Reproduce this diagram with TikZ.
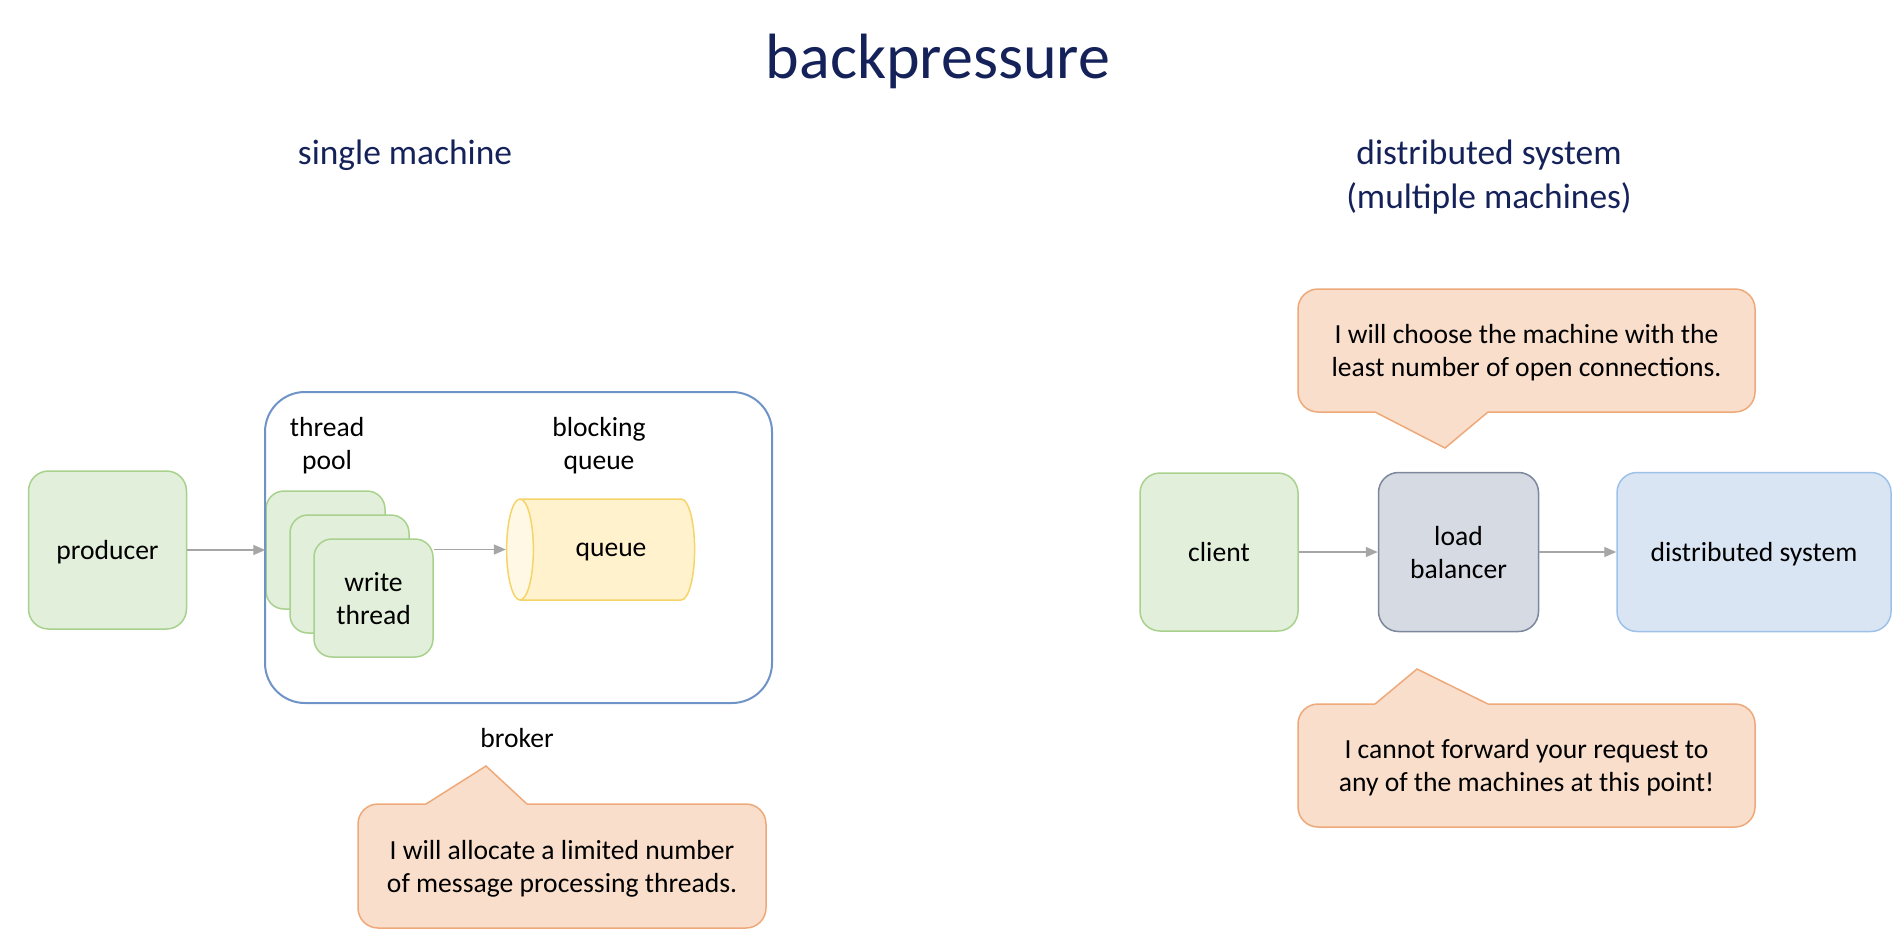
\documentclass[tikz,border=0pt]{standalone}
\usepackage{fontspec}
\setmainfont{Carlito}
\usetikzlibrary{positioning,arrows.meta,shapes.geometric}
\definecolor{navy}{HTML}{15225A}
\definecolor{greenfill}{HTML}{E2EFDA}
\definecolor{greendraw}{HTML}{A9D18E}
\definecolor{brokerdraw}{HTML}{6E93C6}
\definecolor{queuefill}{HTML}{FFF2CC}
\definecolor{queueend}{HTML}{FFF8E4}
\definecolor{queuedraw}{HTML}{F5D46A}
\definecolor{lbfill}{HTML}{D5DAE3}
\definecolor{lbdraw}{HTML}{7D889C}
\definecolor{dsfill}{HTML}{DAE5F4}
\definecolor{dsdraw}{HTML}{9DC1E8}
\definecolor{notefill}{HTML}{F9DECB}
\definecolor{notedraw}{HTML}{EEA97A}
\definecolor{arrowgrey}{HTML}{A6A6A6}
\tikzset{
    heading/.style = {
        text = navy,
        font = \fontsize{32}{38}\selectfont,
        },
    subheading/.style = {
        text = navy,
        align = center,
        font = \fontsize{17.7}{21.6}\selectfont,
        },
    box/.style = {
        draw,
        line width = 0.75pt,
        rounded corners = 10pt,
        align = center,
        text depth = 0pt,
        },
    green box/.style = {
        box,
        fill = greenfill,
        draw = greendraw,
        minimum width = 79pt,
        minimum height = 79pt,
        },
    thread box/.style = {
        green box,
        rounded corners = 9pt,
        minimum width = 59.5pt,
        minimum height = 59pt,
        },
    broker box/.style = {
        draw = brokerdraw,
        line width = 1pt,
        rounded corners = 20pt,
        minimum width = 253.5pt,
        minimum height = 155.5pt,
        },
    queue/.style = {
        cylinder,
        shape border rotate = 180,
        aspect = 1,
        draw = queuedraw,
        line width = 0.75pt,
        text depth = 0pt,
        cylinder uses custom fill,
        cylinder body fill = queuefill,
        cylinder end fill = queueend,
        minimum width = 50.5pt,
        minimum height = 94pt,
        },
    balancer/.style = {
        box,
        fill = lbfill,
        draw = lbdraw,
        minimum width = 80pt,
        minimum height = 79.5pt,
        },
    target/.style = {
        box,
        fill = dsfill,
        draw = dsdraw,
        minimum width = 137pt,
        minimum height = 79.5pt,
        },
    note/.style = {
        fill = notefill,
        draw = notedraw,
        line width = 0.75pt,
        rounded corners = 10pt,
        align = center,
        text depth = 0pt,
        },
    note fill/.style = {
        fill = notefill,
        },
    note line/.style = {
        draw = notedraw,
        line width = 0.75pt,
        },
    flow/.style = {
        draw = arrowgrey,
        line width = 0.7pt,
        -{Triangle[length=6pt,width=5pt]},
        },
}

\begin{document}
\begin{tikzpicture}[x=0.5pt, y=-0.5pt, font=\fontsize{13.8}{16.5}\selectfont]
    \useasboundingbox (0,0) rectangle (1898,937);

    \node[heading, anchor=base] (title) at (938,78) {backpressure};
    \node[subheading, anchor=base] (single) at (405,164) {single machine};
    \node[subheading] (multi) at (1489,177) {distributed system\\(multiple machines)};

    % single machine
    \node[green box] (producer) at (107.5,550) {producer};
    \node[thread box, right=39pt of producer] (pool1) {};
    \node[thread box] (pool2) at ([shift={(24,24)}]pool1.center) {};
    \node[thread box] (pool3) at ([shift={(24,24)}]pool2.center) {write\\thread};
    \node[queue] (queue) at (611,549.5) {queue};
    \node[broker box] (broker) at (518.5,547.5) {};
    \node[align=center] (pool label) at (327,446) {thread\\pool};
    \node[align=center] (queue label) at (599,446) {blocking\\queue};
    \node[anchor=base] (broker label) at (517,747) {broker};

    \path[flow] (producer) -- (pool1);
    \path[flow] (queue.west -| pool3.east) -- (queue.west);

    \node[note, minimum width=204pt, minimum height=62pt] (allocate) at (562,866)
        {I will allocate a limited number\\of message processing threads.};
    \coordinate (allocate tip) at (486,766);
    \fill[note fill] (426,808) -- (426,804) -- (allocate tip) -- (527,804) -- (527,808) -- cycle;
    \draw[note line] (426,804) -- (allocate tip) -- (527,804);

    % distributed system
    \node[green box] (client) at (1219,552) {client};
    \node[balancer, right=39.5pt of client] (lb) {load\\balancer};
    \node[target, right=38.5pt of lb] (ds) {distributed system};

    \path[flow] (client) -- (lb);
    \path[flow] (lb) -- (ds);

    \node[note, minimum width=228.5pt, minimum height=61.5pt] (choose) at (1526.5,350.5)
        {I will choose the machine with the\\least number of open connections.};
    \coordinate (choose tip) at (1445,448);
    \fill[note fill] (1375,408) -- (1375,412) -- (choose tip) -- (1488,412) -- (1488,408) -- cycle;
    \draw[note line] (1375,412) -- (choose tip) -- (1488,412);

    \node[note, minimum width=228.5pt, minimum height=61.5pt] (refuse) at (1526.5,765.5)
        {I cannot forward your request to\\any of the machines at this point!};
    \coordinate (refuse tip) at (1417,669);
    \fill[note fill] (1375,708) -- (1375,704) -- (refuse tip) -- (1488,704) -- (1488,708) -- cycle;
    \draw[note line] (1375,704) -- (refuse tip) -- (1488,704);
\end{tikzpicture}
\end{document}
